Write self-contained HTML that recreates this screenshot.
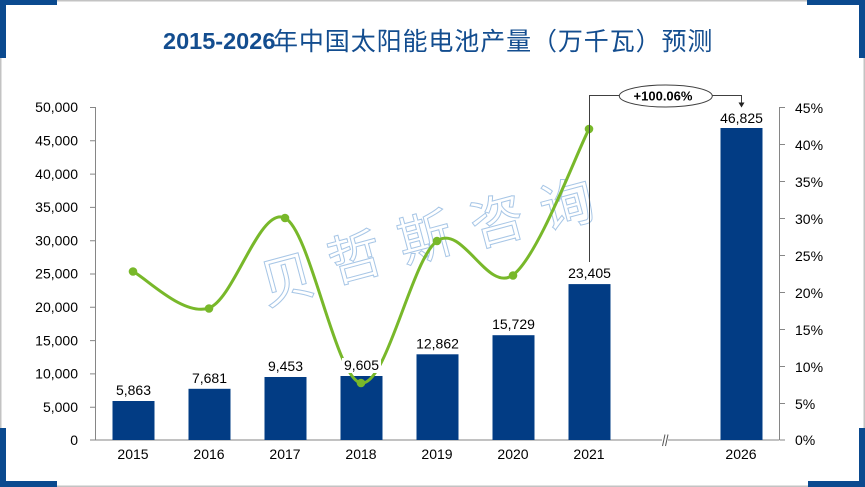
<!DOCTYPE html>
<html><head><meta charset="utf-8"><style>
html,body{margin:0;padding:0;background:#fff;}
svg{display:block;}
</style></head><body>
<svg width="865" height="487" viewBox="0 0 865 487" xmlns="http://www.w3.org/2000/svg" font-family="'Liberation Sans','Noto Sans CJK SC',sans-serif">
<rect x="0" y="0" width="865" height="487" fill="#fff"/>
<!-- frame -->
<rect x="0.75" y="0.75" width="863.5" height="485.5" fill="none" stroke="#c3c3c3" stroke-width="1.5"/>
<g fill="#0b4a8f">
<rect x="0" y="0" width="57" height="5"/><rect x="0" y="0" width="6" height="58"/>
<rect x="807" y="0" width="58" height="5"/><rect x="859" y="0" width="6" height="58"/>
<rect x="0" y="428" width="6" height="59"/><rect x="0" y="481" width="57" height="6"/>
<rect x="859" y="428" width="6" height="59"/><rect x="808" y="481" width="57" height="6"/>
</g>
<!-- title -->
<text x="163" y="49" fill="#134d8f" font-size="23.5" font-weight="bold" font-family="'Liberation Sans',sans-serif">2015-2026</text>
<text x="273" y="50" fill="#134d8f" font-size="25" letter-spacing="0.9" font-family="'Noto Sans CJK SC',sans-serif">年中国太阳能电池产量（万千瓦）预测</text>

<!-- watermark -->
<g fill="none" stroke="#a7c6e6" stroke-width="1" font-size="54" font-family="'Noto Sans CJK SC',sans-serif" text-anchor="middle">
<text transform="translate(287,280) rotate(-15)" dy="19">贝</text>
<text transform="translate(355,258) rotate(-15)" dy="19">哲</text>
<text transform="translate(425,238) rotate(-15)" dy="19">斯</text>
<text transform="translate(497,221) rotate(-15)" dy="19">咨</text>
<text transform="translate(567,205) rotate(-15)" dy="19">询</text>
</g>

<!-- axes -->
<g stroke="#868686" stroke-width="1" fill="none">
<line x1="95.5" y1="107" x2="95.5" y2="440"/>
<line x1="779.5" y1="107" x2="779.5" y2="440"/>
<line x1="95" y1="440" x2="662" y2="440"/>
<line x1="668" y1="440" x2="779" y2="440"/>
<path d="M90 107.5H95.5M90 140.8H95.5M90 174.1H95.5M90 207.4H95.5M90 240.7H95.5M90 274H95.5M90 307.3H95.5M90 340.6H95.5M90 373.9H95.5M90 407.2H95.5M90 440H95.5"/>
<path d="M779.5 107.5H785M779.5 144.5H785M779.5 181.5H785M779.5 218.5H785M779.5 255.5H785M779.5 292.5H785M779.5 329.5H785M779.5 366.5H785M779.5 403.5H785M779.5 440H785"/>
<path d="M662.5 446L665 434.5M665.5 446L668 434.5" stroke="#555"/>
</g>
<!-- left labels -->
<g font-size="14" fill="#000" text-anchor="end">
<text x="78" y="112">50,000</text>
<text x="78" y="145.5">45,000</text>
<text x="78" y="178.8">40,000</text>
<text x="78" y="212">35,000</text>
<text x="78" y="245.4">30,000</text>
<text x="78" y="278.7">25,000</text>
<text x="78" y="312">20,000</text>
<text x="78" y="345.3">15,000</text>
<text x="78" y="378.6">10,000</text>
<text x="78" y="412">5,000</text>
<text x="78" y="445">0</text>
</g>
<!-- right labels -->
<g font-size="14" fill="#000">
<text x="795" y="113">45%</text>
<text x="795" y="150">40%</text>
<text x="795" y="187">35%</text>
<text x="795" y="224">30%</text>
<text x="795" y="261">25%</text>
<text x="795" y="298">20%</text>
<text x="795" y="335">15%</text>
<text x="795" y="372">10%</text>
<text x="795" y="409">5%</text>
<text x="795" y="445">0%</text>
</g>
<!-- x labels -->
<g font-size="14" fill="#000" text-anchor="middle">
<text x="133" y="459">2015</text>
<text x="209" y="459">2016</text>
<text x="285" y="459">2017</text>
<text x="361" y="459">2018</text>
<text x="437" y="459">2019</text>
<text x="513" y="459">2020</text>
<text x="589" y="459">2021</text>
<text x="741" y="459">2026</text>
</g>
<!-- bars -->
<g fill="#023c84">
<rect x="112.5" y="401" width="42" height="39"/>
<rect x="188.5" y="388.8" width="42" height="51.2"/>
<rect x="264.5" y="377" width="42" height="63"/>
<rect x="340.5" y="376" width="42" height="64"/>
<rect x="416.5" y="354.3" width="42" height="85.7"/>
<rect x="492.5" y="335.2" width="42" height="104.8"/>
<rect x="568.5" y="284.1" width="42" height="155.9"/>
<rect x="720.5" y="128" width="42" height="312"/>
</g>
<!-- growth line -->
<path d="M133 271.5C145.7 277.6 183.7 316.9 209 308C234.3 299.1 259.7 205.5 285 218C310.3 230.5 335.7 379.2 361 383C386.3 386.8 411.7 259 437 241C462.3 223 487.7 293.7 513 275C538.3 256.3 576.3 153.3 589 129" fill="none" stroke="#78b82a" stroke-width="3" stroke-linejoin="round"/>
<g fill="#78b82a">
<circle cx="133" cy="271.5" r="4.3"/>
<circle cx="209" cy="308.5" r="4.3"/>
<circle cx="285" cy="218" r="4.3"/>
<circle cx="361" cy="383" r="4.3"/>
<circle cx="437" cy="241" r="4.3"/>
<circle cx="513" cy="275.5" r="4.3"/>
<circle cx="589" cy="129" r="4.3"/>
</g>
<!-- data labels -->
<g fill="#fff">
<rect x="114" y="383" width="39" height="15"/>
<rect x="190" y="371" width="39" height="15"/>
<rect x="266" y="359" width="39" height="15"/>
<rect x="342" y="358" width="39" height="15"/>
<rect x="414" y="336" width="47" height="15"/>
<rect x="490" y="317" width="47" height="15"/>
<rect x="566" y="266" width="47" height="15"/>
<rect x="718" y="110" width="47" height="15"/>
</g>
<g font-size="14" fill="#000" text-anchor="middle">
<text x="133.5" y="395">5,863</text>
<text x="209.5" y="383">7,681</text>
<text x="285.5" y="371">9,453</text>
<text x="361.5" y="370">9,605</text>
<text x="437.5" y="348.3">12,862</text>
<text x="513.5" y="329.2">15,729</text>
<text x="589.5" y="278.1">23,405</text>
<text x="741.5" y="123">46,825</text>
</g>
<!-- annotation -->
<g stroke="#404040" stroke-width="1" fill="none">
<path d="M589.5 262V95.5H619"/>
<path d="M712 95.5H741.5V103"/>
<ellipse cx="665.8" cy="96" rx="46.5" ry="11"/>
</g>
<path d="M738.5 102.5L744.5 102.5L741.5 107.5Z" fill="#222"/>
<text x="663" y="100.5" font-size="13" font-weight="bold" text-anchor="middle" fill="#000">+100.06%</text>
</svg>
</body></html>
